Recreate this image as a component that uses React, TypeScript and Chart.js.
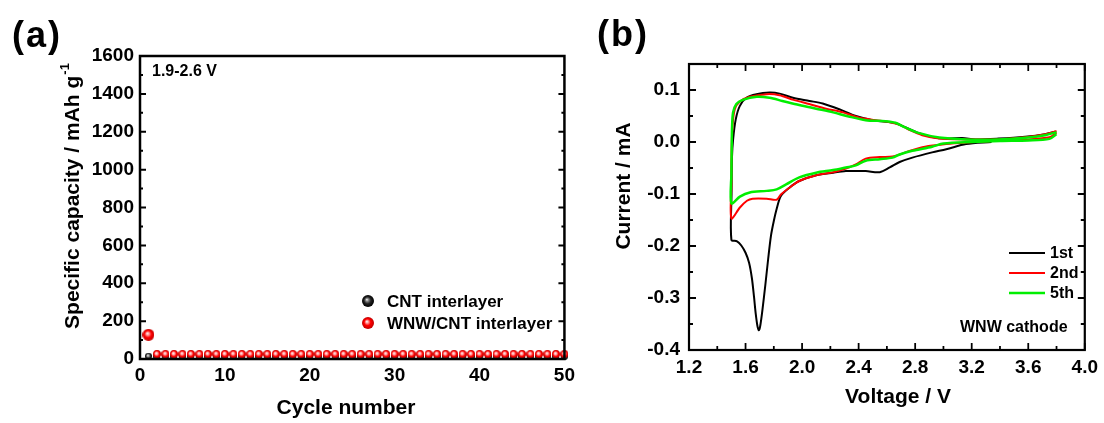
import React, { useEffect, useRef } from "react";
import { Chart, registerables } from "chart.js";

Chart.register(...registerables);

// ---------- Panel (a) data ----------
const cycleNumbers = [
  1, 2, 3, 4, 5, 6, 7, 8, 9, 10, 11, 12, 13, 14, 15, 16, 17, 18, 19, 20, 21, 22, 23, 24, 25,
  26, 27, 28, 29, 30, 31, 32, 33, 34, 35, 36, 37, 38, 39, 40, 41, 42, 43, 44, 45, 46, 47, 48, 49, 50,
];
const cntCapacity = [
  15, 14, 14, 14, 14, 14, 14, 14, 14, 14, 14, 14, 14, 14, 14, 14, 14, 14, 14, 14, 14, 14, 14, 14, 14,
  14, 14, 14, 14, 14, 14, 14, 14, 14, 14, 14, 14, 14, 14, 14, 14, 14, 14, 14, 14, 14, 14, 14, 14, 14,
];
const wnwCapacity = [
  128, 26, 26, 26, 26, 26, 26, 26, 26, 26, 26, 26, 26, 26, 26, 26, 26, 26, 26, 26, 26, 26, 26, 26, 26,
  26, 26, 26, 26, 26, 26, 26, 26, 26, 26, 26, 26, 26, 26, 26, 26, 26, 26, 26, 26, 26, 26, 26, 26, 26,
];
const cycleTicks = [0, 10, 20, 30, 40, 50];
const cycleMinorTicks = [5, 15, 25, 35, 45];
const capacityTicks = [0, 200, 400, 600, 800, 1000, 1200, 1400, 1600];
const capacityMinorTicks = [100, 300, 500, 700, 900, 1100, 1300, 1500];
const seriesNamesA = ["CNT interlayer", "WNW/CNT interlayer"];

// ---------- Panel (b) data ----------
const cv1Voltage = [
  3.34, 3.16, 3.02, 2.92, 2.78, 2.69, 2.62, 2.55, 2.45, 2.31, 2.22, 2.1, 1.98, 1.91, 1.85, 1.82, 1.8,
  1.78, 1.76, 1.74, 1.72, 1.705, 1.695, 1.685, 1.672, 1.66, 1.645, 1.625, 1.6, 1.57, 1.54, 1.5, 1.501,
  1.504, 1.512, 1.531, 1.559, 1.606, 1.677, 1.77, 1.841, 1.935, 2.052, 2.146, 2.263, 2.381, 2.498, 2.592,
  2.663, 2.733, 2.827, 2.92, 3.014, 3.132, 3.226, 3.39, 3.578, 3.719, 3.79,
];
const cv1Current = [
  0.0, -0.004, -0.014, -0.02, -0.03, -0.0385, -0.049, -0.058, -0.056, -0.056, -0.059, -0.064, -0.075,
  -0.088, -0.104, -0.129, -0.152, -0.18, -0.225, -0.275, -0.322, -0.352, -0.362, -0.355, -0.33, -0.298,
  -0.262, -0.232, -0.213, -0.199, -0.191, -0.188, -0.1, -0.03, 0.005, 0.044, 0.069, 0.085, 0.092, 0.095,
  0.093, 0.085, 0.079, 0.074, 0.063, 0.05, 0.042, 0.039, 0.036, 0.028, 0.017, 0.0097, 0.0065, 0.0077,
  0.005, 0.0065, 0.01, 0.015, 0.02,
];
const cv2Voltage = [
  3.8, 3.75, 3.6, 3.4, 3.34, 3.16, 3.02, 2.87, 2.76, 2.69, 2.64, 2.55, 2.45, 2.38, 2.31, 2.22, 2.1, 1.98,
  1.91, 1.85, 1.82, 1.75, 1.65, 1.61, 1.56, 1.5, 1.5, 1.501, 1.508, 1.524, 1.56, 1.63, 1.75, 1.84, 1.94,
  2.05, 2.17, 2.29, 2.4, 2.52, 2.62, 2.69, 2.76, 2.85, 2.97, 3.16, 3.39, 3.58, 3.72, 3.8,
];
const cv2Current = [
  0.018, 0.009, 0.005, 0.004, 0.002, -0.001, -0.004, -0.009, -0.017, -0.024, -0.028, -0.029, -0.032,
  -0.043, -0.051, -0.058, -0.064, -0.075, -0.088, -0.101, -0.111, -0.109, -0.109, -0.113, -0.126, -0.147,
  -0.08, -0.02, 0.031, 0.063, 0.078, 0.087, 0.092, 0.09, 0.081, 0.073, 0.064, 0.057, 0.047, 0.042, 0.038,
  0.033, 0.023, 0.013, 0.0065, 0.005, 0.005, 0.009, 0.015, 0.021,
];
const cv5Voltage = [
  3.8, 3.75, 3.6, 3.4, 3.2, 3.0, 2.92, 2.78, 2.69, 2.64, 2.55, 2.45, 2.38, 2.31, 2.22, 2.1, 1.98, 1.89,
  1.82, 1.75, 1.63, 1.56, 1.5, 1.5, 1.502, 1.505, 1.512, 1.535, 1.58, 1.68, 1.77, 1.86, 1.98, 2.1, 2.22,
  2.33, 2.45, 2.59, 2.66, 2.73, 2.83, 2.97, 3.16, 3.39, 3.58, 3.72, 3.8,
];
const cv5Current = [
  0.015, 0.006, 0.003, 0.002, 0.0, -0.003, -0.009, -0.017, -0.024, -0.03, -0.033, -0.036, -0.045, -0.049,
  -0.054, -0.059, -0.068, -0.081, -0.091, -0.094, -0.097, -0.105, -0.118, -0.06, -0.01, 0.031, 0.057,
  0.073, 0.081, 0.087, 0.085, 0.079, 0.071, 0.064, 0.057, 0.049, 0.042, 0.04, 0.037, 0.028, 0.017, 0.0085,
  0.005, 0.005, 0.008, 0.013, 0.019,
];
const voltageTicks = [1.2, 1.6, 2.0, 2.4, 2.8, 3.2, 3.6, 4.0];
const voltageMinorTicks = [1.4, 1.8, 2.2, 2.6, 3.0, 3.4, 3.8];
const currentTicks = [-0.4, -0.3, -0.2, -0.1, 0.0, 0.1];
const currentMinorTicks = [-0.35, -0.25, -0.15, -0.05, 0.05];
const cvCycleNames = ["1st", "2nd", "5th"];

// ---------- helpers ----------
const FONT = "'Liberation Sans', Arial, sans-serif";
const W = 1104;
const H = 423;

function makeSphere(d: number, kind: "red" | "black", glossy: number): HTMLCanvasElement {
  const c = document.createElement("canvas");
  c.width = d;
  c.height = d;
  const g = c.getContext("2d")!;
  const r = d / 2;
  const grad = g.createRadialGradient(r * 0.8, r * 0.75, 0, r, r, r);
  if (kind === "red") {
    grad.addColorStop(0, "#ffffff");
    grad.addColorStop(glossy, "#ffa0a0");
    grad.addColorStop(Math.min(0.95, glossy + 0.32), "#ff0000");
    grad.addColorStop(1, "#c00000");
  } else {
    grad.addColorStop(0, "#ffffff");
    grad.addColorStop(glossy, "#909090");
    grad.addColorStop(Math.min(0.95, glossy + 0.35), "#222222");
    grad.addColorStop(1, "#000000");
  }
  g.beginPath();
  g.arc(r, r, r, 0, Math.PI * 2);
  g.fillStyle = grad;
  g.fill();
  return c;
}

type Sides = { top: boolean; bottom: boolean; left: boolean; right: boolean };

function framePlugin(opts: {
  xMinor: number[];
  yMinor: number[];
  majorLen: number;
  minorLen: number;
  sides: Sides;
  lineWidth: number;
  decorate: (ctx: CanvasRenderingContext2D, chart: any) => void;
}) {
  return {
    id: "frameTicks",
    beforeDatasetsDraw(chart: any) {
      const { ctx, chartArea: a, scales } = chart;
      const xs = scales.x;
      const ys = scales.y;
      ctx.save();
      ctx.strokeStyle = "#000";
      ctx.lineWidth = opts.lineWidth * 0.8;
      const xMajor = xs.ticks.map((t: any) => t.value);
      const yMajor = ys.ticks.map((t: any) => t.value);
      const drawX = (vals: number[], len: number) => {
        vals.forEach((v) => {
          const px = xs.getPixelForValue(v);
          ctx.beginPath();
          if (opts.sides.bottom) {
            ctx.moveTo(px, a.bottom);
            ctx.lineTo(px, a.bottom - len);
          }
          if (opts.sides.top) {
            ctx.moveTo(px, a.top);
            ctx.lineTo(px, a.top + len);
          }
          ctx.stroke();
        });
      };
      const drawY = (vals: number[], len: number) => {
        vals.forEach((v) => {
          const py = ys.getPixelForValue(v);
          ctx.beginPath();
          if (opts.sides.left) {
            ctx.moveTo(a.left, py);
            ctx.lineTo(a.left + len, py);
          }
          if (opts.sides.right) {
            ctx.moveTo(a.right, py);
            ctx.lineTo(a.right - len, py);
          }
          ctx.stroke();
        });
      };
      drawX(xMajor, opts.majorLen);
      drawX(opts.xMinor, opts.minorLen);
      drawY(yMajor, opts.majorLen);
      drawY(opts.yMinor, opts.minorLen);
      ctx.restore();
    },
    afterDatasetsDraw(chart: any) {
      const { ctx, chartArea: a } = chart;
      ctx.save();
      ctx.strokeStyle = "#000";
      ctx.lineWidth = opts.lineWidth;
      ctx.strokeRect(a.left, a.top, a.right - a.left, a.bottom - a.top);
      ctx.restore();
    },
    afterDraw(chart: any) {
      const ctx = chart.ctx as CanvasRenderingContext2D;
      ctx.save();
      opts.decorate(ctx, chart);
      ctx.restore();
    },
  };
}

function fixedAxis(size: number, horizontal: boolean) {
  return (scale: any) => {
    if (horizontal) scale.height = size;
    else scale.width = size;
  };
}

function setTicks(values: number[]) {
  return (scale: any) => {
    scale.ticks = values.map((v) => ({ value: v }));
  };
}

const tickFont = { family: FONT, size: 19, weight: "bold" as const };

export default function App() {
  const refA = useRef<HTMLCanvasElement | null>(null);
  const refB = useRef<HTMLCanvasElement | null>(null);

  useEffect(() => {
    const bigRed = makeSphere(12, "red", 0.25);
    const smallRed = makeSphere(8, "red", 0.35);
    const smallBlack = makeSphere(7, "black", 0.35);
    const legendBlack = makeSphere(12, "black", 0.22);
    const legendRed = makeSphere(12, "red", 0.22);

    // ---------- Chart (a) ----------
    const chartA = new Chart(refA.current!, {
      type: "scatter",
      data: {
        datasets: [
          {
            label: seriesNamesA[0],
            data: cycleNumbers.map((c, i) => ({ x: c, y: cntCapacity[i] })),
            pointStyle: smallBlack as any,
            order: 2,
            clip: false as any,
          },
          {
            label: seriesNamesA[1],
            data: cycleNumbers.map((c, i) => ({ x: c, y: wnwCapacity[i] })),
            pointStyle: cycleNumbers.map((_, i) => (i === 0 ? bigRed : smallRed)) as any,
            order: 1,
            clip: false as any,
          },
        ],
      },
      options: {
        responsive: false,
        animation: false,
        events: [],
        layout: { padding: { left: 0, top: 56, right: 15, bottom: 0 } },
        plugins: { legend: { display: false }, tooltip: { enabled: false } },
        scales: {
          x: {
            type: "linear",
            min: 0,
            max: 50,
            afterFit: fixedAxis(64, true),
            afterBuildTicks: setTicks(cycleTicks),
            grid: { display: false, drawTicks: false, tickLength: 0 },
            border: { display: false },
            ticks: {
              font: tickFont,
              color: "#000",
              padding: 5,
              maxRotation: 0,
              autoSkip: false,
              callback: (v: any) => String(v),
            },
          },
          y: {
            type: "linear",
            min: 0,
            max: 1600,
            afterFit: fixedAxis(140, false),
            afterBuildTicks: setTicks(capacityTicks),
            grid: { display: false, drawTicks: false, tickLength: 0 },
            border: { display: false },
            ticks: {
              font: tickFont,
              color: "#000",
              padding: 6,
              autoSkip: false,
              callback: (v: any) => String(v),
            },
          },
        },
      },
      plugins: [
        framePlugin({
          xMinor: cycleMinorTicks,
          yMinor: capacityMinorTicks,
          majorLen: 6,
          minorLen: 3,
          sides: { top: false, bottom: true, left: true, right: true },
          lineWidth: 2.5,
          decorate: (ctx, chart) => {
            ctx.fillStyle = "#000";
            ctx.font = `bold 16px ${FONT}`;
            ctx.textAlign = "left";
            ctx.textBaseline = "middle";
            ctx.fillText("1.9-2.6 V", 152, 72);
            ctx.font = `bold 17px ${FONT}`;
            const ds = chart.data.datasets;
            ctx.drawImage(legendBlack, 368 - 6, 301 - 6);
            ctx.fillText(ds[0].label, 387, 302);
            ctx.drawImage(legendRed, 368 - 6, 323 - 6);
            ctx.fillText(ds[1].label, 387, 324);
            ctx.font = `bold 21px ${FONT}`;
            ctx.textAlign = "center";
            ctx.fillText("Cycle number", 346, 408);
            ctx.save();
            ctx.translate(73, 196);
            ctx.rotate(-Math.PI / 2);
            const main = "Specific capacity / mAh g";
            const sup = "-1";
            ctx.font = `bold 21px ${FONT}`;
            const w1 = ctx.measureText(main).width;
            ctx.font = `bold 13px ${FONT}`;
            const w2 = ctx.measureText(sup).width;
            const total = w1 + w2 + 1;
            ctx.textAlign = "left";
            ctx.font = `bold 21px ${FONT}`;
            ctx.fillText(main, -total / 2, 0);
            ctx.font = `bold 13px ${FONT}`;
            ctx.fillText(sup, -total / 2 + w1 + 1, -8);
            ctx.restore();
          },
        }) as any,
      ],
    });

    // ---------- Chart (b) ----------
    const OFF = 560;
    const cvColors = ["#000000", "#ff0000", "#00ee00"];
    const cvWidths = [2, 2, 2.5];
    const cvSets = [
      [cv1Voltage, cv1Current],
      [cv2Voltage, cv2Current],
      [cv5Voltage, cv5Current],
    ];
    const chartB = new Chart(refB.current!, {
      type: "line",
      data: {
        datasets: cvSets.map(([v, c], k) => ({
          label: cvCycleNames[k],
          data: v.map((x, i) => ({ x, y: c[i] })),
          borderColor: cvColors[k],
          borderWidth: cvWidths[k],
          pointRadius: 0,
          tension: 0.3,
          fill: false,
          order: 3 - k,
        })),
      },
      options: {
        responsive: false,
        animation: false,
        events: [],
        layout: { padding: { left: 0, top: 64, right: 17, bottom: 0 } },
        plugins: { legend: { display: false }, tooltip: { enabled: false } },
        scales: {
          x: {
            type: "linear",
            min: 1.2,
            max: 4.0,
            afterFit: fixedAxis(73, true),
            afterBuildTicks: setTicks(voltageTicks),
            grid: { display: false, drawTicks: false, tickLength: 0 },
            border: { display: false },
            ticks: {
              font: tickFont,
              color: "#000",
              padding: 6,
              maxRotation: 0,
              autoSkip: false,
              callback: (v: any) => Number(v).toFixed(1),
            },
          },
          y: {
            type: "linear",
            min: -0.4,
            max: 0.15,
            afterFit: fixedAxis(129, false),
            afterBuildTicks: setTicks(currentTicks),
            grid: { display: false, drawTicks: false, tickLength: 0 },
            border: { display: false },
            ticks: {
              font: tickFont,
              color: "#000",
              padding: 9,
              autoSkip: false,
              callback: (v: any) => Number(v).toFixed(1),
            },
          },
        },
      },
      plugins: [
        framePlugin({
          xMinor: voltageMinorTicks,
          yMinor: currentMinorTicks,
          majorLen: 7,
          minorLen: 4,
          sides: { top: true, bottom: true, left: true, right: true },
          lineWidth: 2.2,
          decorate: (ctx, chart) => {
            ctx.fillStyle = "#000";
            const ds = chart.data.datasets;
            const rows = [253, 273, 293];
            ctx.font = `bold 16px ${FONT}`;
            ctx.textAlign = "left";
            ctx.textBaseline = "middle";
            rows.forEach((y, k) => {
              ctx.strokeStyle = ds[k].borderColor;
              ctx.lineWidth = ds[k].borderWidth;
              ctx.beginPath();
              ctx.moveTo(1009 - OFF, y);
              ctx.lineTo(1045 - OFF, y);
              ctx.stroke();
              ctx.fillText(ds[k].label, 1050 - OFF, y + 1);
            });
            ctx.fillText("WNW cathode", 960 - OFF, 328);
            ctx.font = `bold 21px ${FONT}`;
            ctx.textAlign = "center";
            ctx.fillText("Voltage / V", 898 - OFF, 397);
            ctx.save();
            ctx.translate(624 - OFF, 186);
            ctx.rotate(-Math.PI / 2);
            ctx.fillText("Current / mA", 0, 0);
            ctx.restore();
          },
        }) as any,
      ],
    });

    return () => {
      chartA.destroy();
      chartB.destroy();
    };
  }, []);

  const panelLabel: React.CSSProperties = {
    position: "absolute",
    font: `bold 36px ${FONT}`,
    lineHeight: "36px",
    letterSpacing: "2px",
    color: "#000",
    margin: 0,
  };

  return (
    <div
      style={{
        position: "fixed",
        left: 0,
        top: 0,
        width: W,
        height: H,
        background: "#fff",
        overflow: "hidden",
      }}
    >
      <canvas ref={refA} width={580} height={H} style={{ position: "absolute", left: 0, top: 0 }} />
      <canvas ref={refB} width={544} height={H} style={{ position: "absolute", left: 560, top: 0 }} />
      <div style={{ ...panelLabel, left: 12, top: 17 }}>(a)</div>
      <div style={{ ...panelLabel, left: 597, top: 16 }}>(b)</div>
    </div>
  );
}
